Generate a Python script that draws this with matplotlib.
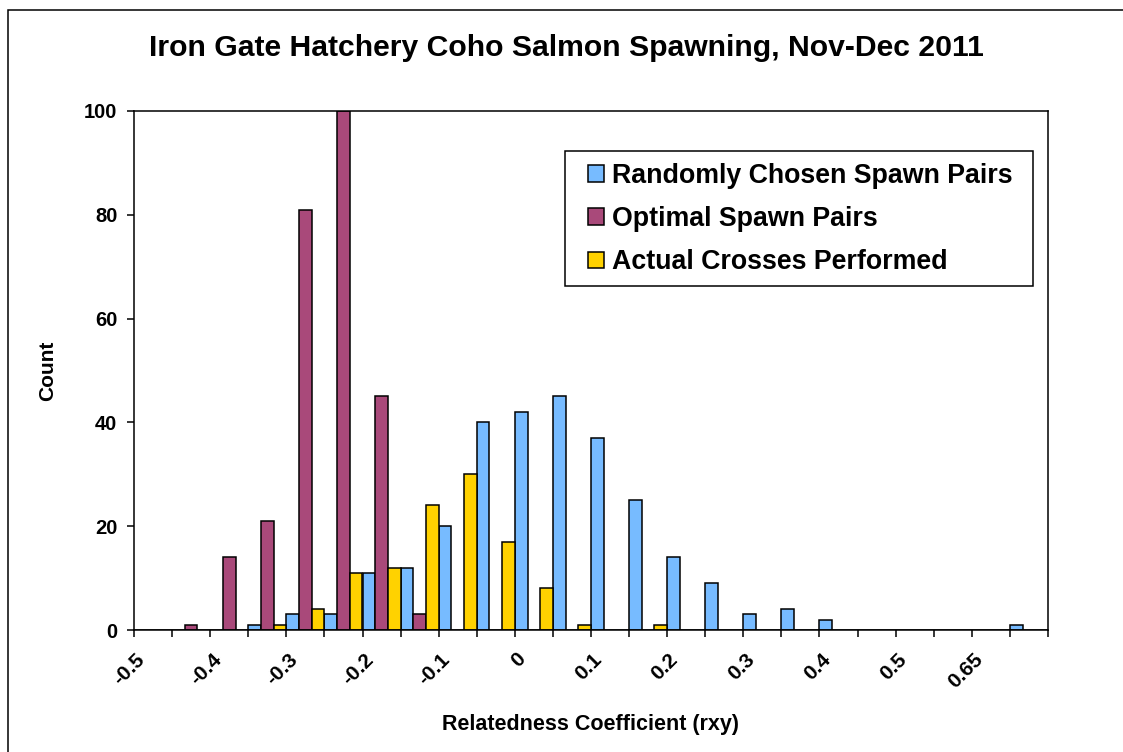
import matplotlib
matplotlib.use('Agg')
from matplotlib import pyplot as plt
from matplotlib.patches import Rectangle
from matplotlib.transforms import ScaledTranslation
import numpy as np

plt.rcParams['font.family'] = ['Liberation Sans', 'DejaVu Sans']
plt.rcParams['font.weight'] = 'bold'

# relatedness bins (every other bin labelled on the axis)
bin_labels = ['-0.5', '', '-0.4', '', '-0.3', '', '-0.2', '', '-0.1', '',
              '0', '', '0.1', '', '0.2', '', '0.3', '', '0.4', '',
              '0.5', '', '0.65', '']
random_pairs = [0, 0, 0, 1, 3, 3, 11, 12, 20, 40, 42, 45,
                37, 25, 14, 9, 3, 4, 2, 0, 0, 0, 0, 1]
optimal_pairs = [0, 1, 14, 21, 81, 100, 45, 3, 0, 0, 0, 0,
                 0, 0, 0, 0, 0, 0, 0, 0, 0, 0, 0, 0]
actual_crosses = [0, 0, 0, 1, 4, 11, 12, 24, 30, 17, 8, 1,
                  0, 1, 0, 0, 0, 0, 0, 0, 0, 0, 0, 0]

series = [('Randomly Chosen Spawn Pairs', random_pairs, '#77BBFF'),
          ('Optimal Spawn Pairs', optimal_pairs, '#A9497A'),
          ('Actual Crosses Performed', actual_crosses, '#FFD200')]

W, H = 1123, 752
fig = plt.figure(figsize=(W/100, H/100), dpi=100)
fig.patch.set_facecolor('white')
ax = fig.add_axes([134/W, 1-630/H, (1048-134)/W, (630-111)/H])

x = np.arange(len(bin_labels))
bw = 1/3
for i, (name, vals, col) in enumerate(series):
    ax.bar(x + (i-1)*bw, vals, width=bw, color=col, edgecolor='black',
           linewidth=1.1, label=name)

ax.set_xlim(-0.5, len(bin_labels)-0.5)
ax.set_ylim(0, 100)
ax.set_yticks(np.arange(0, 101, 20))

# tick marks between bins, labels on the even bins
ax.set_xticks(np.arange(len(bin_labels)+1) - 0.5)
ax.set_xticklabels([])
lab_pos = [i for i, l in enumerate(bin_labels) if l]
ax.set_xticks(lab_pos, minor=True)
ax.set_xticklabels([bin_labels[i] for i in lab_pos], minor=True,
                   rotation=45, ha='right', va='center', rotation_mode='anchor')
ax.tick_params(axis='x', which='major', direction='out', length=5, width=1.1)
ax.tick_params(axis='x', which='minor', length=0, pad=19, labelsize=15)
ax.tick_params(axis='y', direction='out', length=5, width=1.1, pad=7, labelsize=14.5)
shift = ScaledTranslation(-11/100, 0, fig.dpi_scale_trans)
for lab in ax.get_xticklabels(minor=True):
    lab.set_transform(lab.get_transform() + shift)
for lab in ax.get_xticklabels(minor=True) + ax.get_yticklabels():
    lab.set_fontweight('bold')

for sp in ax.spines.values():
    sp.set_linewidth(1.1)
    sp.set_color('black')

ax.set_ylabel('Count', fontsize=15, fontweight='bold', labelpad=19)
ax.set_xlabel('Relatedness Coefficient (rxy)', fontsize=15.5, fontweight='bold', labelpad=16)
fig.text(566/W, 1-48/H, 'Iron Gate Hatchery Coho Salmon Spawning, Nov-Dec 2011',
         ha='center', va='center', fontsize=21.7, fontweight='bold')

leg = ax.legend(loc='upper left', bbox_to_anchor=(580/W, 1-155/H),
                bbox_transform=fig.transFigure, fontsize=19.3, frameon=False,
                handlelength=0.58, handleheight=0.58, handletextpad=0.3,
                labelspacing=0.64, borderpad=0.3, borderaxespad=0)
for t in leg.get_texts():
    t.set_fontweight('bold')
# legend box
fig.add_artist(Rectangle((565/W, 1-286/H), (1033-565)/W, (286-151)/H,
                         transform=fig.transFigure, fill=False,
                         edgecolor='black', linewidth=1.1, zorder=5))

fig.add_artist(Rectangle((8/W, -0.05), 1.0, 1.05-10/H, transform=fig.transFigure,
                         fill=False, edgecolor='black', linewidth=1.1))

fig.savefig('out.png', dpi=100)
